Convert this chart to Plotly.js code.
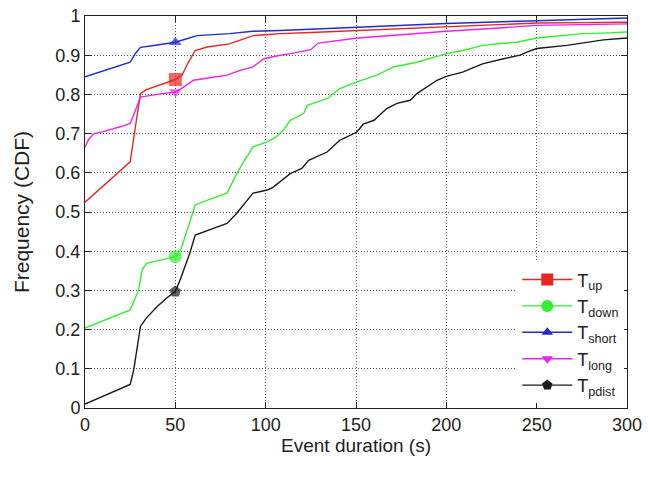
<!DOCTYPE html>
<html>
<head>
<meta charset="utf-8">
<script src="https://cdn.plot.ly/plotly-3.0.1.min.js"></script>
<style>html,body{margin:0;padding:0;background:#fff;}#chart{width:649px;height:477px;}</style>
</head>
<body>
<div id="chart"></div>
<script>
// Series names
const names = ["T<sub>up</sub>", "T<sub>down</sub>", "T<sub>short</sub>", "T<sub>long</sub>", "T<sub>pdist</sub>"];

// T_up
const upX = [0, 25, 28, 30.7, 34, 40, 47, 50, 53.7, 57, 61, 67.6, 80, 93, 100, 108, 125, 151, 175, 200, 225, 250, 275, 300];
const upY = [0.525, 0.628, 0.72, 0.802, 0.812, 0.822, 0.832, 0.838, 0.849, 0.88, 0.912, 0.921, 0.929, 0.950, 0.952, 0.955, 0.958, 0.963, 0.968, 0.973, 0.978, 0.982, 0.983, 0.984];

// T_down
const downX = [0, 25, 29.6, 31.6, 34, 40, 45, 50, 53, 56.5, 61, 66, 71, 78.6, 84, 88, 93, 100.8, 106, 110, 113.6, 121, 123, 134, 141, 150.5, 161.6, 170.7, 183.7, 190, 200, 209, 220, 230, 239, 250, 266.7, 275.7, 290, 300];
const downY = [0.204, 0.25, 0.30, 0.352, 0.369, 0.375, 0.38, 0.386, 0.403, 0.454, 0.518, 0.527, 0.535, 0.548, 0.598, 0.63, 0.666, 0.679, 0.692, 0.71, 0.734, 0.751, 0.772, 0.789, 0.815, 0.832, 0.849, 0.870, 0.882, 0.89, 0.904, 0.912, 0.925, 0.93, 0.933, 0.944, 0.95, 0.955, 0.957, 0.959];

// T_short
const shortX = [0, 25, 28, 30.7, 40, 50, 55, 62, 80, 93, 108, 151, 200, 250, 300];
const shortY = [0.845, 0.882, 0.905, 0.92, 0.926, 0.933, 0.94, 0.950, 0.955, 0.961, 0.963, 0.971, 0.981, 0.988, 0.995];

// T_long
const longX = [0, 2, 5, 10, 20, 25, 28, 30.7, 40, 50, 55, 60, 70, 78.6, 85, 93, 99, 108, 114, 125, 129, 140, 151, 175, 200, 225, 250, 275, 300];
const longY = [0.665, 0.685, 0.70, 0.705, 0.718, 0.726, 0.76, 0.793, 0.80, 0.806, 0.82, 0.836, 0.843, 0.849, 0.86, 0.870, 0.891, 0.90, 0.904, 0.914, 0.931, 0.938, 0.944, 0.952, 0.961, 0.968, 0.976, 0.978, 0.98];

// T_pdist
const pdistX = [0, 25, 27, 30.7, 34, 40, 45, 50, 53, 58, 61, 71, 78.6, 84, 93, 100.8, 104, 113.6, 120, 123.8, 134, 141, 150.5, 154, 160, 167, 172.7, 180, 183.7, 194.8, 200, 209, 220, 231.6, 240.9, 244.6, 250, 266.7, 287, 300];
const pdistY = [0.01, 0.06, 0.098, 0.208, 0.23, 0.259, 0.28, 0.297, 0.331, 0.395, 0.441, 0.458, 0.471, 0.497, 0.548, 0.556, 0.563, 0.598, 0.611, 0.632, 0.653, 0.683, 0.704, 0.724, 0.734, 0.764, 0.777, 0.785, 0.802, 0.836, 0.846, 0.857, 0.878, 0.891, 0.90, 0.908, 0.917, 0.925, 0.939, 0.944];

// x value at which each curve carries its point marker
const markerAt = 50;

const xTicks = [0, 50, 100, 150, 200, 250, 300];
const yTicks = [0, 0.1, 0.2, 0.3, 0.4, 0.5, 0.6, 0.7, 0.8, 0.9, 1];
const yTickText = ["0", "0.1", "0.2", "0.3", "0.4", "0.5", "0.6", "0.7", "0.8", "0.9", "1"];

const styles = [
  {color: "#e8261f", symbol: "square", size: 13},
  {color: "#33ee33", symbol: "circle", size: 13},
  {color: "#1f2ccc", symbol: "triangle-up", size: 11},
  {color: "#ee22ee", symbol: "triangle-down", size: 11},
  {color: "#1a1a1a", symbol: "pentagon", size: 12}
];
const series = [[upX, upY], [downX, downY], [shortX, shortY], [longX, longY], [pdistX, pdistY]];

const traces = series.map((s, i) => ({
  type: "scatter",
  mode: "lines+markers",
  name: names[i],
  showlegend: false,
  x: s[0],
  y: s[1],
  line: {color: styles[i].color, width: 1.4},
  marker: {
    color: styles[i].color,
    symbol: styles[i].symbol,
    size: s[0].map(v => v === markerAt ? styles[i].size : 0),
    line: {width: 0}
  }
}));

// Legend entries (no data, only the key)
const legendTraces = series.map((s, i) => ({
  type: "scatter",
  mode: "lines+markers",
  name: names[i],
  x: [null],
  y: [null],
  line: {color: styles[i].color, width: 1.4},
  marker: {color: styles[i].color, symbol: styles[i].symbol, size: styles[i].size - 1, line: {width: 0}}
}));

const font = "Liberation Sans, Arial, Helvetica, sans-serif";
const layout = {
  width: 649, height: 477,
  margin: {l: 84.5, r: 22, t: 15.5, b: 68.5},
  paper_bgcolor: "#fff", plot_bgcolor: "#fff",
  font: {family: font, size: 18, color: "#222"},
  showlegend: true,
  legend: {
    x: 0.995, xanchor: "right", y: 0.012, yanchor: "bottom",
    bgcolor: "#fff", borderwidth: 0,
    font: {family: font, size: 18, color: "#222"},
    itemsizing: "trace", itemwidth: 50, tracegroupgap: 0
  },
  xaxis: {
    range: [0, 300], tickvals: xTicks, ticktext: xTicks.map(String),
    showgrid: true, gridcolor: "#555", griddash: "1px,2px", gridwidth: 1,
    showline: true, linecolor: "#222", linewidth: 1, mirror: "ticks",
    ticks: "inside", ticklen: 6, tickcolor: "#222",
    zeroline: false,
    tickfont: {size: 18, color: "#222"},
    title: {text: "Event duration (s)", font: {size: 19, color: "#222"}, standoff: 2}
  },
  yaxis: {
    range: [0, 1], tickvals: yTicks, ticktext: yTickText,
    showgrid: true, gridcolor: "#555", griddash: "1px,2px", gridwidth: 1,
    showline: true, linecolor: "#222", linewidth: 1, mirror: "ticks",
    ticks: "inside", ticklen: 6, tickcolor: "#222",
    zeroline: false,
    tickfont: {size: 18, color: "#222"},
    title: {text: "Frequency (CDF)", font: {size: 21, color: "#222"}, standoff: 20}
  }
};

Plotly.newPlot("chart", traces.concat(legendTraces), layout, {displayModeBar: false, staticPlot: true});
</script>
</body>
</html>
